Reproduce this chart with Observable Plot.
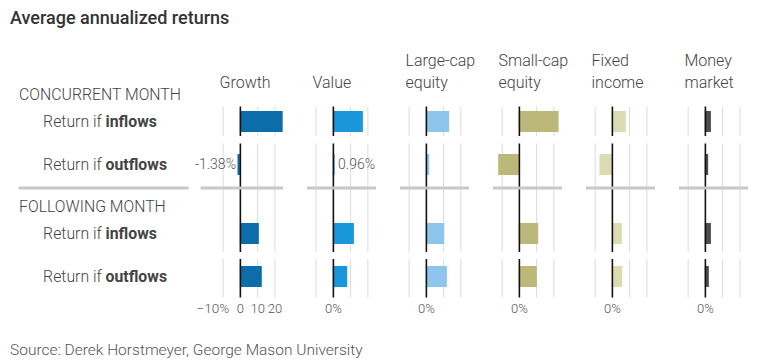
<!DOCTYPE html>
<html><head><meta charset="utf-8">
<script src="https://cdn.jsdelivr.net/npm/d3@7"></script>
<script src="https://cdn.jsdelivr.net/npm/@observablehq/plot@0.6"></script>
<style>
body{margin:0;background:#fff;font-family:Roboto,sans-serif;}
#title{height:36px;line-height:36px;padding-left:10px;font-size:18px;font-weight:500;color:#333;}
#source{height:28px;line-height:28px;padding-left:10px;font-size:15.5px;font-weight:300;color:#555;}
#chart svg{display:block;}
#chart svg text{font-family:Roboto,sans-serif;font-weight:300;}
</style></head><body>
<div id="title">Average annualized returns</div>
<div id="chart"></div>
<div id="source">Source: Derek Horstmeyer, George Mason University</div>
<script>
const categories = ["Growth", "Value", "Large-cap\nequity", "Small-cap\nequity", "Fixed\nincome", "Money\nmarket"];
const barColors = ["#0c6ea8", "#1a96db", "#8ec5ec", "#bcb87a", "#dcdcb4", "#4d4d4d"];
const sections = ["CONCURRENT MONTH", "FOLLOWING MONTH"];
const flows = ["inflows", "outflows"];
const concurrentInflows  = [24.8, 17.4, 13.5, 23.0, 8.1, 3.5];
const concurrentOutflows = [-1.38, 0.96, 1.9, -12.0, -7.2, 1.9];
const followingInflows   = [11.0, 12.2, 10.6, 11.2, 5.8, 3.5];
const followingOutflows  = [12.7, 8.3, 12.2, 10.4, 6.0, 2.3];
const gridTicks = [-10, 0, 10, 20];
const growthTickLabels = ["\u221210%", "0", "10", "20"];
const otherTickLabel = "0%";
const labeledCategories = ["Growth", "Value"];

const seriesBySection = {
  [sections[0]]: {inflows: concurrentInflows, outflows: concurrentOutflows},
  [sections[1]]: {inflows: followingInflows, outflows: followingOutflows}
};
const bars = [];
sections.forEach(s => flows.forEach(f => categories.forEach((c, i) =>
  bars.push({section: s, flow: f, cat: c, value: seriesBySection[s][f][i]}))));

const gridData = [];
sections.forEach(s => flows.forEach(f => categories.forEach(c => gridTicks.forEach(t =>
  gridData.push({section: s, flow: f, cat: c, tick: t})))));

const segs = [
  {section: sections[0], flow: "inflows", top: -4.5, bottom: -4},
  {section: sections[0], flow: "outflows", top: -10.5, bottom: -77},
  {section: sections[1], flow: "outflows", top: -7, bottom: -10.5}
];
function gridRules(zero) {
  return segs.map(s => Plot.ruleX(
    gridData.filter(d => d.section === s.section && d.flow === s.flow && (d.tick === 0) === zero),
    {x: "tick", y1: "flow", y2: "flow", fx: "cat", fy: "section",
     stroke: zero ? "#111" : "#dcdcdc", strokeWidth: zero ? 1.6 : 1,
     insetTop: s.top, insetBottom: s.bottom}));
}

const labeled = bars.filter(d => d.section === sections[0] && d.flow === "outflows" && labeledCategories.includes(d.cat));
const fmt = d => (d.value < 0 ? "-" : "") + Math.abs(d.value).toFixed(2) + "%";

const tickData = [];
categories.forEach((c, i) => {
  if (i === 0) gridTicks.forEach((t, j) => tickData.push({cat: c, tick: t, label: growthTickLabels[j]}));
  else tickData.push({cat: c, tick: 0, label: otherTickLabel});
});

const rowLabels = [];
sections.forEach(s => flows.forEach(f => rowLabels.push({section: s, flow: f})));

const plot = Plot.plot({
  width: 758,
  height: 300,
  marginLeft: 213.4,
  marginRight: 8.9,
  marginTop: 50,
  marginBottom: 25,
  x: {domain: [-15, 25], axis: null},
  y: {domain: flows, axis: null, paddingInner: 0.511, paddingOuter: 0.534},
  fx: {domain: categories, axis: null, paddingInner: 0.2608, paddingOuter: 0},
  fy: {domain: sections, axis: null, padding: 0},
  color: {domain: categories, range: barColors},
  marks: [
    ...gridRules(false),
    Plot.barX(bars, {x: "value", y: "flow", fx: "cat", fy: "section", fill: "cat"}),
    ...gridRules(true),
    // separators
    Plot.ruleY(categories.slice(1), {fx: d => d, fy: () => sections[0], y: () => "outflows", dy: 23, stroke: "#c8c8c8", strokeWidth: 3}),
    Plot.ruleY([categories[0]], {fx: d => d, fy: () => sections[0], y: () => "outflows", dy: 23, stroke: "#c8c8c8", strokeWidth: 3, insetLeft: -13.4}),
    Plot.ruleY([categories[0]], {fx: d => d, fy: () => sections[0], y: () => "outflows", dy: 23, stroke: "#c8c8c8", strokeWidth: 3, insetLeft: -195.4, insetRight: 94.4}),
    // value labels
    Plot.text(labeled.filter(d => d.value < 0), {x: "value", y: "flow", fx: "cat", fy: "section", text: fmt, textAnchor: "end", dx: -2, fontSize: 14, fill: "#555"}),
    Plot.text(labeled.filter(d => d.value >= 0), {x: "value", y: "flow", fx: "cat", fy: "section", text: fmt, textAnchor: "start", dx: 3, fontSize: 14, fill: "#555"}),
    // column headers
    Plot.text(categories, {fx: d => d, fy: () => sections[0], text: d => d, frameAnchor: "top-left", textAnchor: "start", lineAnchor: "bottom", lineHeight: 1.35, dx: 5, dy: 0, fontSize: 16, fill: "#444"}),
    // row labels
    Plot.text(rowLabels, {fx: () => categories[0], fy: "section", y: "flow", frameAnchor: "left", textAnchor: "start", dx: -171.4, text: d => "Return if " + d.flow, fontSize: 15.8, fill: "#444"}),
    // section labels
    Plot.text(sections, {fx: () => categories[0], fy: d => d, y: () => "inflows", frameAnchor: "left", textAnchor: "start", dx: -195.4, dy: -27, text: d => d, fontSize: 15.8, fill: "#444"}),
    // tick labels
    Plot.text(tickData.filter(d => d.tick < 0), {x: "tick", fx: "cat", fy: () => sections[1], y: () => "outflows", dy: 32, dx: 6, textAnchor: "end", text: "label", fontSize: 13.5, fill: "#555"}),
    Plot.text(tickData.filter(d => d.tick >= 0), {x: "tick", fx: "cat", fy: () => sections[1], y: () => "outflows", dy: 32, text: "label", fontSize: 13, fill: "#555"})
  ]
});

plot.querySelectorAll("text").forEach(t => {
  const m = /^Return if (inflows|outflows)$/.exec(t.textContent);
  if (m) {
    t.textContent = "Return if ";
    const ts = document.createElementNS("http://www.w3.org/2000/svg", "tspan");
    ts.setAttribute("font-weight", "bold");
    ts.textContent = m[1];
    t.appendChild(ts);
  }
});
document.getElementById("chart").appendChild(plot);
</script>
</body></html>
